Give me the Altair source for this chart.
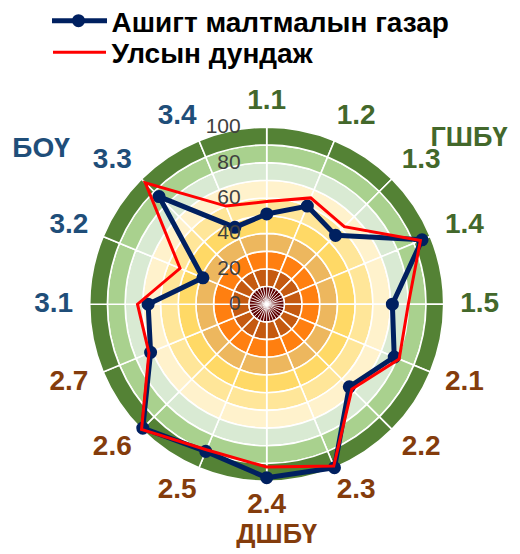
import altair as alt
import pandas as pd

# ---------------- data ----------------
axes = ["1.1", "1.2", "1.3", "1.4", "1.5",
        "2.1", "2.2", "2.3", "2.4", "2.5", "2.6", "2.7",
        "3.1", "3.2", "3.3", "3.4"]
mine = [51, 60, 55, 95, 71, 78, 66, 100, 98, 90, 99, 71, 67, 39, 86, 47]
national = [58, 65, 62, 94, 80, 81, 68, 99, 92, 89, 100, 72, 73, 53, 97, 60]
series_names = ["Ашигт малтмалын газар", "Улсын дундаж"]
ticks = [0, 20, 40, 60, 80, 100]
band_edges = [0, 10, 20, 30, 40, 50, 60, 70, 80, 90, 100]
band_colors = ["#5E0000", "#C55A11", "#FF7F10", "#EDB75E", "#FFD966",
               "#FFE699", "#FFF2CC", "#D9EAD3", "#A9D18E", "#548235"]
groups = ["1", "2", "3"]
group_titles = ["ГШБҮ", "ДШБҮ", "БОҮ"]
group_colors = ["#43682B", "#843C0C", "#1F4E79"]

# ---------------- layout ----------------
W, H = 504, 540
CX, CY, R = 258.7, 296.2, 177.0
PXU = R / 100.0            # pixels per value unit
FONT = "Liberation Sans"
NAVY, RED = "#002060", "#FF0000"
title_pos = [(461, 130), (268.7, 527), (33, 141)]
title_size = [27, 27, 28]

n = len(axes)
SX = alt.Scale(domain=[-100, 100], range=[CX - R, CX + R])
SY = alt.Scale(domain=[-100, 100], range=[CY + R, CY - R])
S_THETA = alt.Scale(domain=[0, 360], range=[0, 6.283185307])
S_RAD = alt.Scale(type="linear", domain=[0, 100], range=[0, R], zero=True)

# background rings (doughnut bands)
rows = []
for i in range(1, len(band_colors)):
    for j in range(n):
        rows.append({"band": f"b{i}", "t0": j * 360 / n, "t1": (j + 1) * 360 / n,
                     "r0": band_edges[i], "r1": band_edges[i + 1]})
bg_df = pd.DataFrame(rows)

bg = alt.Chart(bg_df).mark_arc(stroke="white", strokeWidth=1.6).encode(
    x=alt.value(CX), y=alt.value(CY),
    theta=alt.Theta("t0:Q", scale=S_THETA, stack=None),
    theta2=alt.Theta2("t1:Q"),
    radius=alt.Radius("r1:Q", scale=S_RAD),
    radius2=alt.Radius2("r0:Q"),
    fill=alt.Fill("band:N", scale=alt.Scale(domain=[f"b{i}" for i in range(1, len(band_colors))],
                                            range=band_colors[1:]), legend=None),
)

# innermost disc (drawn as a filled circle symbol) + thin spokes
core_d = 2 * band_edges[1] * PXU
core_df = pd.DataFrame({"cx": [0], "cy": [0]})
core = alt.Chart(core_df).mark_point(
    shape="circle", filled=True, fill=band_colors[0], stroke="white", strokeWidth=1.6,
    size=core_d * core_d, opacity=1, fillOpacity=1
).encode(
    x=alt.X("cx:Q", scale=SX, axis=None),
    y=alt.Y("cy:Q", scale=SY, axis=None),
)
spk_df = pd.DataFrame({"k": list(range(2 * n)), "r": [band_edges[1]] * (2 * n)})
spokes = alt.Chart(spk_df).transform_calculate(
    a=f"datum.k * PI / {n}"
).transform_calculate(
    x0="0", y0="0", x1="datum.r * sin(datum.a)", y1="datum.r * cos(datum.a)"
).mark_rule(color="white", strokeWidth=0.9).encode(
    x=alt.X("x0:Q", scale=SX, axis=None), y=alt.Y("y0:Q", scale=SY, axis=None),
    x2="x1:Q", y2="y1:Q",
)

# series
recs = []
for s, vals in zip(series_names, [mine, national]):
    for k in range(n + 1):
        recs.append({"series": s, "k": k, "axis": axes[k % n], "v": vals[k % n]})
line_df = pd.DataFrame(recs)

base = alt.Chart(line_df).transform_calculate(
    a=f"datum.k * 2 * PI / {n}"
).transform_calculate(
    px="datum.v * sin(datum.a)", py="datum.v * cos(datum.a)"
)

navy_line = base.transform_filter(alt.datum.series == series_names[0]).mark_line(
    color=NAVY, strokeWidth=5, strokeJoin="round"
).encode(
    x=alt.X("px:Q", scale=SX, axis=None),
    y=alt.Y("py:Q", scale=SY, axis=None),
    order="k:Q",
)
navy_pts = base.transform_filter(
    (alt.datum.series == series_names[0]) & (alt.datum.k < n)
).mark_point(filled=True, color=NAVY, size=170, opacity=1).encode(
    x=alt.X("px:Q", scale=SX, axis=None),
    y=alt.Y("py:Q", scale=SY, axis=None),
)
red_line = base.transform_filter(alt.datum.series == series_names[1]).mark_line(
    color=RED, strokeWidth=3
).encode(
    x=alt.X("px:Q", scale=SX, axis=None),
    y=alt.Y("py:Q", scale=SY, axis=None),
    order="k:Q",
)

# radial tick labels
tick_df = pd.DataFrame({"t": ticks})
tick_lbl = alt.Chart(tick_df).mark_text(
    align="right", baseline="middle", font=FONT, fontSize=21, color="#404040"
).encode(
    x=alt.value(CX - 26),
    y=alt.Y("t:Q", scale=SY, axis=None),
    text="t:Q",
)

# category labels around the chart (Excel-like placement outside the rim)
lab_df = pd.DataFrame({"axis": axes, "k": list(range(n)), "grp": [a[0] for a in axes]})
labels = alt.Chart(lab_df).transform_calculate(
    a=f"datum.k * 2 * PI / {n}"
).transform_calculate(
    s="sin(datum.a)", c="cos(datum.a)"
).transform_calculate(
    lx=f"(200 * datum.s + 13 * (datum.s > 0.01 ? 1 : (datum.s < -0.01 ? -1 : 0))) / {PXU}",
    ly=f"(200 * datum.c + (datum.c > 0.01 ? 3 : (datum.c < -0.01 ? -1 : 0))) / {PXU}",
).mark_text(
    align="center", baseline="middle", font=FONT, fontSize=28, fontWeight="bold"
).encode(
    x=alt.X("lx:Q", scale=SX, axis=None),
    y=alt.Y("ly:Q", scale=SY, axis=None),
    text="axis:N",
    color=alt.Color("grp:N", scale=alt.Scale(domain=groups, range=group_colors), legend=None),
)

# group titles
title_layers = []
for g, t, (tx, ty), fs in zip(groups, group_titles, title_pos, title_size):
    title_layers.append(
        alt.Chart(pd.DataFrame({"title": [t], "grp": [g]})).mark_text(
            align="center", baseline="middle", font=FONT, fontSize=fs, fontWeight="bold"
        ).encode(
            x=alt.value(tx), y=alt.value(ty), text="title:N",
            color=alt.Color("grp:N", scale=alt.Scale(domain=groups, range=group_colors), legend=None),
        )
    )

# legend (manual)
leg_df = pd.DataFrame({"label": series_names})
leg1_rule = alt.Chart(leg_df.iloc[[0]]).mark_rule(color=NAVY, strokeWidth=5).encode(
    x=alt.value(44), x2=alt.value(99), y=alt.value(12.7))
leg1_pt = alt.Chart(leg_df.iloc[[0]]).mark_point(filled=True, color=NAVY, size=170, opacity=1).encode(
    x=alt.value(70.5), y=alt.value(12.7))
leg2_rule = alt.Chart(leg_df.iloc[[1]]).mark_rule(color=RED, strokeWidth=3).encode(
    x=alt.value(45), x2=alt.value(98), y=alt.value(44.3))
leg1_txt = alt.Chart(leg_df.iloc[[0]]).mark_text(
    align="left", baseline="alphabetic", font=FONT, fontSize=28, fontWeight="bold", color="black"
).encode(x=alt.value(103.5), y=alt.value(23.7), text="label:N")
leg2_txt = alt.Chart(leg_df.iloc[[1]]).mark_text(
    align="left", baseline="alphabetic", font=FONT, fontSize=28, fontWeight="bold", color="black"
).encode(x=alt.value(103.5), y=alt.value(55.3), text="label:N")

chart = alt.layer(
    bg, core, spokes, navy_line, navy_pts, red_line, tick_lbl, labels, *title_layers,
    leg1_rule, leg1_pt, leg2_rule, leg1_txt, leg2_txt
).properties(
    width=W, height=H, padding=0, autosize=alt.AutoSizeParams(type="none")
).configure_view(strokeWidth=0)

chart.save("out.html", embed_options={"renderer": "svg", "actions": False})
